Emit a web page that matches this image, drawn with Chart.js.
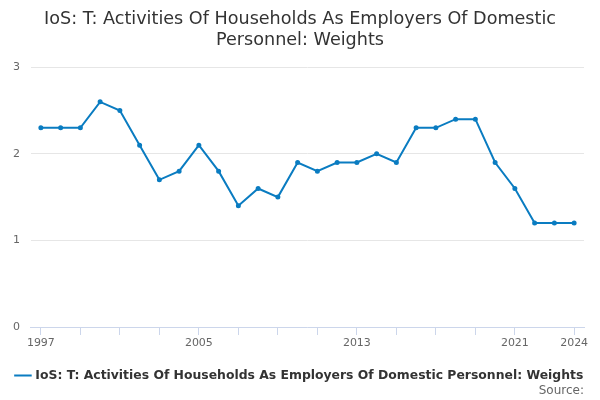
<!DOCTYPE html>
<html>
<head>
<meta charset="utf-8">
<script src="https://cdn.jsdelivr.net/npm/chart.js@4.4.0/dist/chart.umd.min.js"></script>
<style>
  html, body { margin: 0; padding: 0; background: #fff; }
  #wrap { width: 600px; height: 400px; }
</style>
</head>
<body>
<div id="wrap"><canvas id="myChart"></canvas></div>
<script>
var titleLines = ['IoS: T: Activities Of Households As Employers Of Domestic', 'Personnel: Weights'];
var seriesName = 'IoS: T: Activities Of Households As Employers Of Domestic Personnel: Weights';
var years = ['1997','1998','1999','2000','2001','2002','2003','2004','2005','2006',
             '2007','2008','2009','2010','2011','2012','2013','2014','2015','2016',
             '2017','2018','2019','2020','2021','2022','2023','2024'];
var weights = [2.3, 2.3, 2.3, 2.6, 2.5, 2.1, 1.7, 1.8, 2.1, 1.8,
               1.4, 1.6, 1.5, 1.9, 1.8, 1.9, 1.9, 2.0, 1.9, 2.3,
               2.3, 2.4, 2.4, 1.9, 1.6, 1.2, 1.2, 1.2];
var labelYears = ['1997', '2005', '2013', '2021', '2024'];
var tickYears = ['1999','2001','2003','2007','2009','2011','2015','2017','2019'];

Chart.defaults.font.family = '"DejaVu Sans", sans-serif';

var ctx = document.getElementById('myChart');
var myChart = new Chart(ctx, {
  type: 'line',
  data: {
    labels: years,
    datasets: [{
      label: seriesName,
      data: weights,
      borderColor: '#0a7cc1',
      backgroundColor: '#0a7cc1',
      borderWidth: 2,
      pointRadius: 1.5,
      pointHoverRadius: 3,
      tension: 0
    }]
  },
  options: {
    responsive: true,
    maintainAspectRatio: false,
    animation: false,
    layout: { padding: { left: 2, right: 2, top: 9, bottom: 2 } },
    plugins: {
      title: {
        display: true,
        text: titleLines,
        color: '#333333',
        font: { size: 17.6, weight: 'normal' },
        padding: { top: 0, bottom: 16 }
      },
      subtitle: {
        display: true,
        position: 'bottom',
        align: 'end',
        fullSize: false,
        text: 'Source:',
        color: '#666666',
        font: { size: 12 },
        padding: { top: -8, bottom: 0 }
      },
      legend: {
        position: 'bottom',
        labels: {
          color: '#333333',
          font: { size: 12.4, weight: 'bold' },
          usePointStyle: true,
          pointStyle: 'line',
          boxWidth: 16,
          padding: 17
        }
      },
      tooltip: { enabled: false }
    },
    scales: {
      x: {
        offset: true,
        grid: {
          offset: false,
          drawOnChartArea: false,
          drawTicks: true,
          tickLength: 8,
          color: '#ccd6eb'
        },
        border: { color: '#ccd6eb' },
        ticks: {
          autoSkip: false,
          maxRotation: 0,
          color: '#666666',
          font: { size: 11 },
          padding: 2,
          callback: function(value, index) {
            var y = years[index];
            if (labelYears.indexOf(y) >= 0) return y;
            if (tickYears.indexOf(y) >= 0) return '';
            return null;
          }
        }
      },
      y: {
        min: 0,
        max: 3,
        grid: { color: '#e6e6e6', drawTicks: false },
        border: { display: false },
        ticks: {
          stepSize: 1,
          color: '#666666',
          font: { size: 11 },
          padding: 11
        }
      },
      // empty right-hand axis only to leave a right margin beside the plot
      yRight: {
        position: 'right',
        min: 0,
        max: 3,
        grid: { drawOnChartArea: false, drawTicks: false },
        border: { display: false },
        ticks: { display: false },
        afterFit: function(scale) { scale.width = 14; }
      }
    }
  }
});
</script>
</body>
</html>
